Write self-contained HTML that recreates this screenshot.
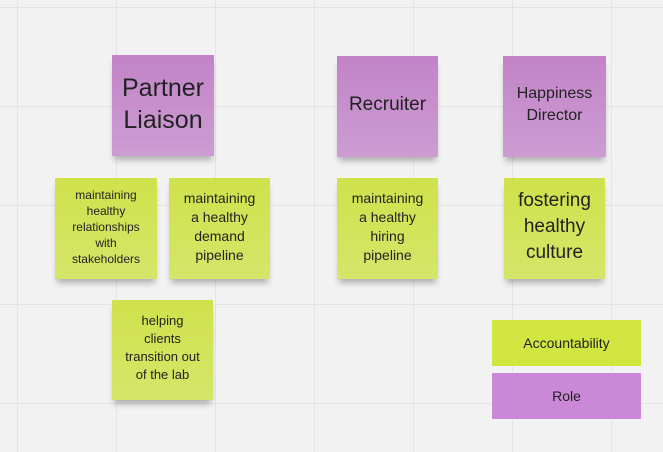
<!DOCTYPE html>
<html><head><style>
body{margin:0;width:663px;height:452px;overflow:hidden;background:#f2f2f2;font-family:"Liberation Sans",sans-serif;position:relative;
background-image:linear-gradient(#e4e4e4 1px,transparent 1px),linear-gradient(90deg,#e4e4e4 1px,transparent 1px);
background-size:99px 99px;background-position:17px 7px;}
.s{position:absolute;display:flex;align-items:center;justify-content:center;text-align:center;color:#222;box-shadow:0 6px 6px -2px rgba(0,0,0,0.28);box-sizing:border-box;padding:4px 4px 8px;}
.p{background:linear-gradient(#c283c7,#cc9dd3);}
.g{background:linear-gradient(#cfe24a,#d5e56a);}
.l{position:absolute;display:flex;align-items:center;justify-content:center;color:#222;font-size:14px;}
</style></head><body>
<div class="s p" style="left:112px;top:55px;width:102px;height:101px;font-size:25px;line-height:32px">Partner<br>Liaison</div>
<div class="s p" style="left:337px;top:56px;width:101px;height:101px;font-size:19px">Recruiter</div>
<div class="s p" style="left:503px;top:56px;width:103px;height:101px;font-size:16px;line-height:22px">Happiness<br>Director</div>
<div class="s g" style="left:55px;top:178px;width:102px;height:101px;font-size:12px;line-height:16px">maintaining<br>healthy<br>relationships<br>with<br>stakeholders</div>
<div class="s g" style="left:169px;top:178px;width:101px;height:101px;font-size:14px;line-height:19px">maintaining<br>a healthy<br>demand<br>pipeline</div>
<div class="s g" style="left:337px;top:178px;width:101px;height:101px;font-size:14px;line-height:19px">maintaining<br>a healthy<br>hiring<br>pipeline</div>
<div class="s g" style="left:504px;top:178px;width:101px;height:101px;font-size:19px;line-height:26px">fostering<br>healthy<br>culture</div>
<div class="s g" style="left:112px;top:300px;width:101px;height:100px;font-size:13px;line-height:18px">helping<br>clients<br>transition out<br>of the lab</div>
<div class="l" style="left:492px;top:320px;width:149px;height:46px;background:#d1e640">Accountability</div>
<div class="l" style="left:492px;top:373px;width:149px;height:46px;background:#cb88d6">Role</div>
</body></html>
